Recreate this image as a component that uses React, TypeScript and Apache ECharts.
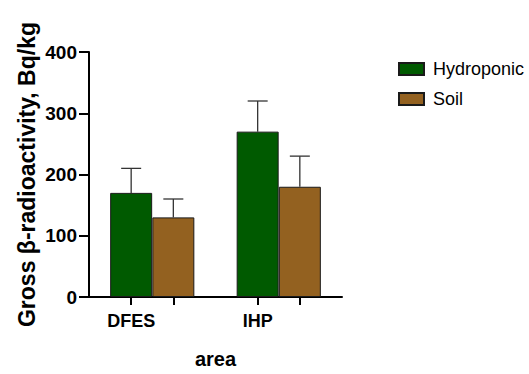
import React, { useEffect, useRef } from "react";
import * as echarts from "echarts";

const categories = ["DFES", "IHP"];
const seriesNames = ["Hydroponic", "Soil"];
const hydroponic = [170, 270];
const hydroponicErr = [40, 50];
const soil = [130, 180];
const soilErr = [30, 50];
const yTicks = [0, 100, 200, 300, 400];

const FONT = 'Arial, "Liberation Sans", Helvetica, sans-serif';

export default function App() {
  const ref = useRef<HTMLDivElement>(null);
  useEffect(() => {
    if (!ref.current) return;
    const chart = echarts.init(ref.current, undefined, { renderer: "svg" });

    const nSlots = categories.length * 3 + 1;
    const xCats: string[] = new Array(nSlots).fill("");
    const hydroData: any[] = new Array(nSlots).fill("-");
    const soilData: any[] = new Array(nSlots).fill("-");
    const errData: number[][] = [];
    const tickIdx: number[] = [];
    categories.forEach((c, g) => {
      const h = 1 + 3 * g;
      const s = 2 + 3 * g;
      xCats[h] = c;
      hydroData[h] = hydroponic[g];
      soilData[s] = soil[g];
      errData.push([h, hydroponic[g], hydroponic[g] + hydroponicErr[g]]);
      errData.push([s, soil[g], soil[g] + soilErr[g]]);
      tickIdx.push(h, s);
    });

    const option: any = {
      animation: false,
      backgroundColor: "#ffffff",
      grid: { left: 89, width: 253, top: 52, height: 253.5, containLabel: false },
      legend: {
        data: seriesNames,
        orient: "vertical",
        left: 393,
        top: 55,
        itemWidth: 25,
        itemHeight: 12,
        itemGap: 12,
        icon: "rect",
        textStyle: { fontSize: 18, color: "#000", fontFamily: FONT, padding: [0, 0, 0, 4] },
      },
      xAxis: {
        type: "category",
        data: xCats,
        boundaryGap: false,
        name: "area",
        nameLocation: "middle",
        nameGap: 52,
        nameTextStyle: { fontSize: 20, fontWeight: "bold", color: "#000", fontFamily: FONT },
        axisLine: { lineStyle: { color: "#000", width: 2 } },
        axisTick: {
          show: true,
          length: 8,
          interval: (i: number) => tickIdx.indexOf(i) >= 0,
          lineStyle: { color: "#000", width: 2 },
        },
        axisLabel: {
          interval: 0,
          margin: 15,
          fontSize: 18,
          fontWeight: "bold",
          color: "#000",
          fontFamily: FONT,
        },
        splitLine: { show: false },
      },
      yAxis: {
        type: "value",
        min: yTicks[0],
        max: yTicks[yTicks.length - 1],
        interval: 100,
        name: "Gross β-radioactivity, Bq/kg",
        nameLocation: "middle",
        nameGap: 51,
        nameTextStyle: { fontSize: 23, fontWeight: "bold", color: "#000", fontFamily: FONT },
        axisLine: { show: true, lineStyle: { color: "#000", width: 2 } },
        axisTick: { show: true, length: 10, lineStyle: { color: "#000", width: 2 } },
        axisLabel: {
          margin: 12,
          fontSize: 19,
          fontWeight: "bold",
          color: "#000",
          fontFamily: FONT,
        },
        splitLine: { show: false },
      },
      series: [
        {
          name: seriesNames[0],
          type: "bar",
          data: hydroData,
          barWidth: 42,
          barGap: "-100%",
          itemStyle: { color: "#005a00", borderColor: "#1a1a1a", borderWidth: 1 },
        },
        {
          name: seriesNames[1],
          type: "bar",
          data: soilData,
          barWidth: 42,
          barGap: "-100%",
          itemStyle: { color: "#936120", borderColor: "#1a1a1a", borderWidth: 1 },
        },
        {
          type: "custom",
          name: "err",
          data: errData,
          z: 10,
          encode: { x: 0, y: [1, 2] },
          renderItem: (params: any, api: any) => {
            const x = api.value(0);
            const base = api.coord([x, api.value(1)]);
            const top = api.coord([x, api.value(2)]);
            const half = 10;
            return {
              type: "group",
              children: [
                {
                  type: "line",
                  shape: { x1: base[0], y1: base[1], x2: top[0], y2: top[1] },
                  style: { stroke: "#333", lineWidth: 1.3 },
                },
                {
                  type: "line",
                  shape: { x1: top[0] - half, y1: top[1], x2: top[0] + half, y2: top[1] },
                  style: { stroke: "#333", lineWidth: 1.3 },
                },
              ],
            };
          },
        },
      ],
    };
    chart.setOption(option);
    return () => chart.dispose();
  }, []);
  return (
    <div
      ref={ref}
      style={{ position: "fixed", left: 0, top: 0, width: 529, height: 374, background: "#fff" }}
    />
  );
}
